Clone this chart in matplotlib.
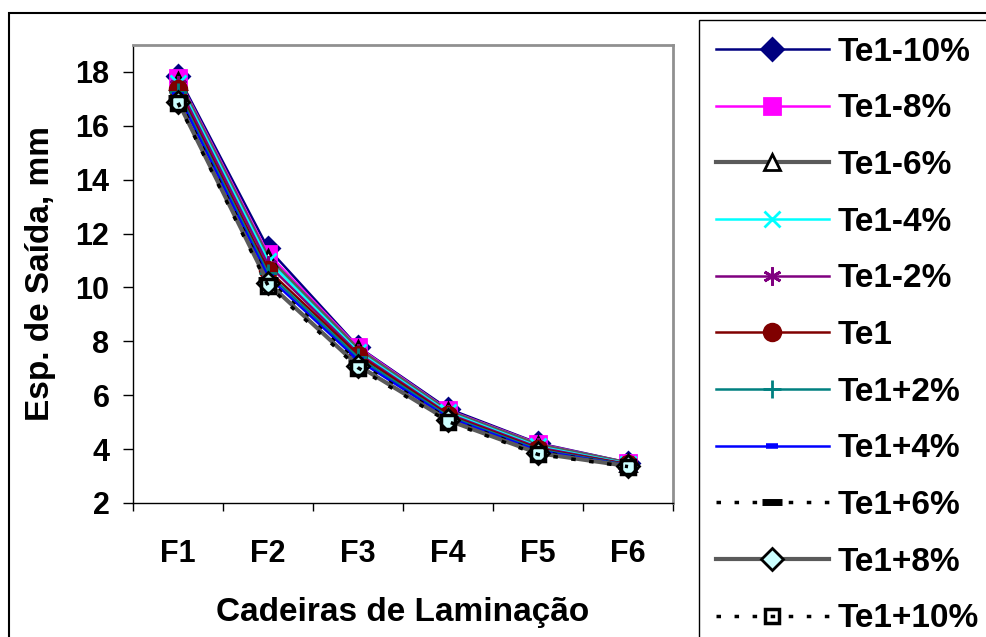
"""
Espessura de saida por cadeira de laminacao para variacoes de Te1.
"""

import matplotlib.pyplot as plt
from matplotlib.patches import Rectangle

plt.rcParams["font.family"] = ["Liberation Sans", "DejaVu Sans"]
plt.rcParams["font.weight"] = "bold"

STANDS: list[str] = ["F1", "F2", "F3", "F4", "F5", "F6"]

TE1_M10: list[float] = [17.85, 11.45, 7.80, 5.50, 4.22, 3.50]
TE1_M8: list[float] = [17.78, 11.25, 7.78, 5.45, 4.20, 3.49]
TE1_M6: list[float] = [17.68, 11.10, 7.70, 5.40, 4.15, 3.47]
TE1_M4: list[float] = [17.60, 11.00, 7.62, 5.36, 4.10, 3.46]
TE1_M2: list[float] = [17.50, 10.85, 7.56, 5.31, 4.06, 3.44]
TE1_0: list[float] = [17.35, 10.65, 7.50, 5.27, 4.02, 3.43]
TE1_P2: list[float] = [17.25, 10.52, 7.40, 5.22, 3.98, 3.41]
TE1_P4: list[float] = [17.15, 10.40, 7.30, 5.17, 3.94, 3.40]
TE1_P6: list[float] = [17.02, 10.27, 7.20, 5.12, 3.90, 3.38]
TE1_P8: list[float] = [16.90, 10.17, 7.10, 5.07, 3.85, 3.37]
TE1_P10: list[float] = [16.85, 10.07, 7.02, 5.02, 3.80, 3.35]

LABELS: list[str] = [
    "Te1-10%", "Te1-8%", "Te1-6%", "Te1-4%", "Te1-2%", "Te1",
    "Te1+2%", "Te1+4%", "Te1+6%", "Te1+8%", "Te1+10%",
]

FIGURE_WIDTH: float = 9.87
FIGURE_HEIGHT: float = 6.37

DOTTED = (0, (1.3, 3.9))
ASTERISK = (6, 2, 0)

# color, linestyle, linewidth, marker, marker face, marker edge, marker size
STYLES = [
    ("#000080", "-", 1.8, "D", "#000080", "#000080", 11),
    ("#FF00FF", "-", 1.8, "s", "#FF00FF", "#FF00FF", 11),
    ("#5a5a5a", "-", 3.0, "^", "white", "black", 12),
    ("#00FFFF", "-", 1.8, "x", "#00FFFF", "#00FFFF", 12),
    ("#800080", "-", 1.8, ASTERISK, "#800080", "#800080", 13),
    ("#800000", "-", 1.8, "o", "#800000", "#800000", 12),
    ("#008080", "-", 1.8, "+", "#008080", "#008080", 13),
    ("#0000FF", "-", 1.8, "_", "#0000FF", "#0000FF", 8),
    ("black", DOTTED, 2.5, "_", "black", "black", 14),
    ("#5a5a5a", "-", 3.0, "D", "#CCFFFF", "black", 11),
    ("black", DOTTED, 2.5, "s", "none", "black", 10),
]


def create_line_chart() -> None:
    """
    Draw the exit thickness curves for each Te1 variation.
    """
    series = [TE1_M10, TE1_M8, TE1_M6, TE1_M4, TE1_M2, TE1_0,
              TE1_P2, TE1_P4, TE1_P6, TE1_P8, TE1_P10]

    fig = plt.figure(figsize=(FIGURE_WIDTH, FIGURE_HEIGHT), dpi=100)
    ax = fig.add_axes([0.1348, 0.2104, 0.5471, 0.719])

    x = list(range(len(STANDS)))
    handles = []
    for values, label, style in zip(series, LABELS, STYLES):
        color, ls, lw, marker, mfc, mec, ms = style
        mew = 2.5 if mfc == "none" else 2.0
        if marker == "_":
            mew = 5.0 if color == "black" else 4.0
        (line,) = ax.plot(x, values, color=color, linestyle=ls, linewidth=lw,
                          marker=marker, markerfacecolor=mfc,
                          markeredgecolor=mec, markersize=ms,
                          markeredgewidth=mew, label=label)
        handles.append(line)

    ax.set_xlim(-0.5, len(STANDS) - 0.5)
    ax.set_ylim(2, 19)
    ax.set_yticks(range(2, 19, 2))
    ax.set_xticks(x)
    ax.set_xticklabels(STANDS)
    ax.set_xticks([i - 0.5 for i in range(len(STANDS) + 1)], minor=True)

    ax.tick_params(axis="x", which="major", length=0, pad=26,
                   labelsize=22)
    ax.tick_params(axis="x", which="minor", length=6, width=1,
                   direction="out")
    ax.tick_params(axis="y", length=7, width=1, direction="out", pad=10,
                   labelsize=22)
    for lab in ax.get_xticklabels() + ax.get_yticklabels():
        lab.set_fontweight("bold")

    ax.spines["left"].set_color("black")
    ax.spines["bottom"].set_color("black")
    ax.spines["left"].set_linewidth(1.0)
    ax.spines["bottom"].set_linewidth(1.0)
    ax.spines["top"].set_color("#909090")
    ax.spines["right"].set_color("#909090")
    ax.spines["top"].set_linewidth(2.0)
    ax.spines["right"].set_linewidth(2.0)

    ax.set_xlabel("Cadeiras de Laminação", fontsize=24, fontweight="bold",
                  labelpad=20)
    ax.set_ylabel("Esp. de Saída, mm", fontsize=24, fontweight="bold",
                  labelpad=14)

    leg = fig.legend(handles=handles, loc="upper left",
                     bbox_to_anchor=(699 / 987, 1 - 20 / 637),
                     fontsize=24, handlelength=3.4, handletextpad=0.25,
                     labelspacing=0.77, borderpad=0.5, borderaxespad=0,
                     fancybox=False, edgecolor="black", framealpha=1)
    leg.get_frame().set_linewidth(1.0)
    for text in leg.get_texts():
        text.set_fontweight("bold")

    fig.patches.append(Rectangle((9 / 987, -0.05), 1.0, 1.05 - 13 / 637,
                                 transform=fig.transFigure, fill=False,
                                 edgecolor="black", linewidth=1.5,
                                 zorder=0))

    fig.savefig("out.png", dpi=100)


if __name__ == "__main__":
    create_line_chart()
